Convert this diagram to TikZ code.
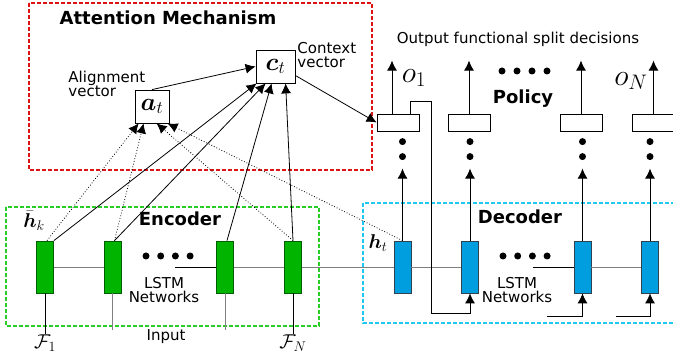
\RequirePackage{fix-cm}
\documentclass[tikz,border=0pt]{standalone}
\usepackage{fontspec}
\setmainfont{DejaVu Sans}
\usepackage{amsmath}
\usetikzlibrary{arrows.meta}

\definecolor{lstmgreen}{RGB}{0,180,0}
\definecolor{lstmgreenline}{RGB}{0,95,0}
\definecolor{lstmblue}{RGB}{0,158,222}
\definecolor{lstmblueline}{RGB}{50,65,80}
\definecolor{attnred}{RGB}{220,20,20}
\definecolor{encdash}{RGB}{40,205,40}
\definecolor{decdash}{RGB}{30,200,240}

\begin{document}
\begin{tikzpicture}[x=1pt, y=-1pt, line width=0.8pt,
    arr/.style={-{Latex[length=10pt,width=10pt]}},
    enccell/.style={draw=lstmgreenline, fill=lstmgreen, minimum width=17pt, minimum height=52pt, inner sep=0pt},
    deccell/.style={draw=lstmblueline, fill=lstmblue, minimum width=17pt, minimum height=52pt, inner sep=0pt},
    polbox/.style={draw, minimum width=42pt, minimum height=17pt, inner sep=0pt},
    vecbox/.style={draw, minimum height=33pt, inner sep=0pt, font=\fontsize{25}{25}\selectfont},
    dashbox/.style={line width=1.5pt, dash pattern=on 4pt off 2pt},
    title/.style={font=\fontsize{18}{20}\selectfont\bfseries, inner sep=0pt},
    lbl/.style={font=\fontsize{15}{14.5}\selectfont, inner sep=0pt},
    mlbl/.style={font=\fontsize{20}{20}\selectfont, inner sep=0pt},
    olbl/.style={font=\fontsize{30}{30}\selectfont, inner sep=0pt}]
    \useasboundingbox (0,0) rectangle (673,355);

    % dashed frames
    \draw[dashbox, attnred] (29,3) rectangle (372,170);
    \draw[dashbox, encdash] (6,207) rectangle (319,326);
    \draw[dashbox, decdash] (363,203) rectangle (690,323);

    \node[title] (attn) at (168,18) {Attention Mechanism};
    \node[title] (enctitle) at (180,219) {Encoder};
    \node[title] (dectitle) at (520,217) {Decoder};
    \node[title] (poltitle) at (523,99) {Policy};
    \node[lbl] (outlbl) at (518,39) {Output functional split decisions};
    \node[lbl, align=left, anchor=west] (alignlbl) at (68,84) {Alignment\\vector};
    \node[lbl, align=left, anchor=west] (ctxlbl) at (297,55) {Context\\vector};
    \node[lbl, align=center] (enclstm) at (164,290) {LSTM\\Networks};
    \node[lbl, align=center] (declstm) at (517,290) {LSTM\\Networks};
    \node[lbl] (inlbl) at (166,337) {Input};

    % attention vectors
    \node[vecbox, minimum width=39pt] (ct) at (275.5,66.5) {$\boldsymbol{c}_t$};
    \node[vecbox, minimum width=34pt] (at) at (152,106.5) {$\boldsymbol{a}_t$};

    % LSTM cells
    \node[enccell] (enc1) at (45,267) {};
    \node[enccell] (enc2) at (112.5,267) {};
    \node[enccell] (enc3) at (225,267) {};
    \node[enccell] (enc4) at (293,267) {};
    \node[deccell] (dec1) at (402.5,267) {};
    \node[deccell] (dec2) at (470,267) {};
    \node[deccell] (dec3) at (582.5,267) {};
    \node[deccell] (dec4) at (650,267) {};

    % policy boxes
    \node[polbox] (pol1) at (398,122.5) {};
    \node[polbox] (pol2) at (469,122.5) {};
    \node[polbox] (pol3) at (581,122.5) {};
    \node[polbox] (pol4) at (653.5,122.5) {};

    \node[mlbl] (hk) at (34,221) {$\bar{\boldsymbol{h}}_k$};
    \node[mlbl] (ht) at (378,243) {$\boldsymbol{h}_t$};
    \node[olbl] (o1) at (414,78) {$o_1$};
    \node[olbl] (oN) at (631,81) {$o_N$};
    \node[mlbl] (F1) at (45,343) {$\mathcal{F}_1$};
    \node[mlbl] (FN) at (293,343) {$\mathcal{F}_N$};

    % chain of cells
    \draw[gray] (enc1.east) -- (enc2.west);
    \coordinate (encgap) at (175,267);
    \draw (encgap) -- (enc3.west);
    \draw[gray] (enc3.east) -- (enc4.west);
    \draw[gray] (enc4.east) -- (dec1.west);
    \draw[gray] (dec1.east) -- (dec2.west);
    \coordinate (decgap) at (533,267);
    \draw (decgap) -- (dec3.west);
    \draw[gray] (dec3.east) -- (dec4.west);

    % inputs
    \draw (enc1.south) -- (F1.north);
    \draw[gray] (enc2.south) -- ++(0,37);
    \draw[gray] (enc3.south) -- ++(0,37);
    \draw (enc4.south) -- (FN.north);

    \foreach \k in {0,1,2,3} {
        \fill (146+14.7*\k,256) circle (3.5pt);
        \fill (503+14.7*\k,256) circle (3.5pt);
        \fill (502+15*\k,71) circle (3.5pt);
    }

    % decoder to policy
    \foreach \i in {1,...,4} {
        \draw[arr] (dec\i.north) -- ++(0,-72);
        \fill (dec\i.north) ++(0,-84) circle (3.5pt) ++(0,-15) circle (3.5pt);
    }
    \draw[arr] ([xshift=-6pt]pol1.north) -- ++(0,-53);
    \foreach \i in {2,3,4}
        \draw[arr] (pol\i.north) -- ++(0,-53);

    % feedback
    \draw[arr] ([xshift=12pt]pol1.north) -- ++(0,-12) -| (431,313) -| (dec2.south);
    \coordinate (fb3) at (547,316);
    \coordinate (fb4) at (616,316);
    \draw[arr] (fb3) -| (dec3.south);
    \draw[arr] (fb4) -| (dec4.south);

    % attention
    \draw[arr] (at.north) -- (ct.west);
    \draw[arr] (enc1.north east) -- ([xshift=1pt]ct.south west);
    \draw[arr] ([xshift=2pt]enc2.north) -- ([xshift=10pt]ct.south west);
    \draw[arr] ([xshift=2pt]enc3.north) -- ([xshift=16pt]ct.south west);
    \draw[arr] (enc4.north) -- ([xshift=30pt]ct.south west);
    \draw[arr, dotted] ([xshift=2pt]enc1.north) -- ([xshift=4pt]at.south west);
    \draw[arr, dotted] ([xshift=2pt]enc2.north) -- ([xshift=9pt]at.south west);
    \draw[arr, dotted] (enc4.north) -- ([xshift=22pt]at.south west);
    \draw[arr, dotted] (dec1.north) -- ([xshift=33pt]at.south west);
    \draw[arr] ([yshift=-9pt]ct.east) -- (pol1.west);
\end{tikzpicture}
\end{document}
